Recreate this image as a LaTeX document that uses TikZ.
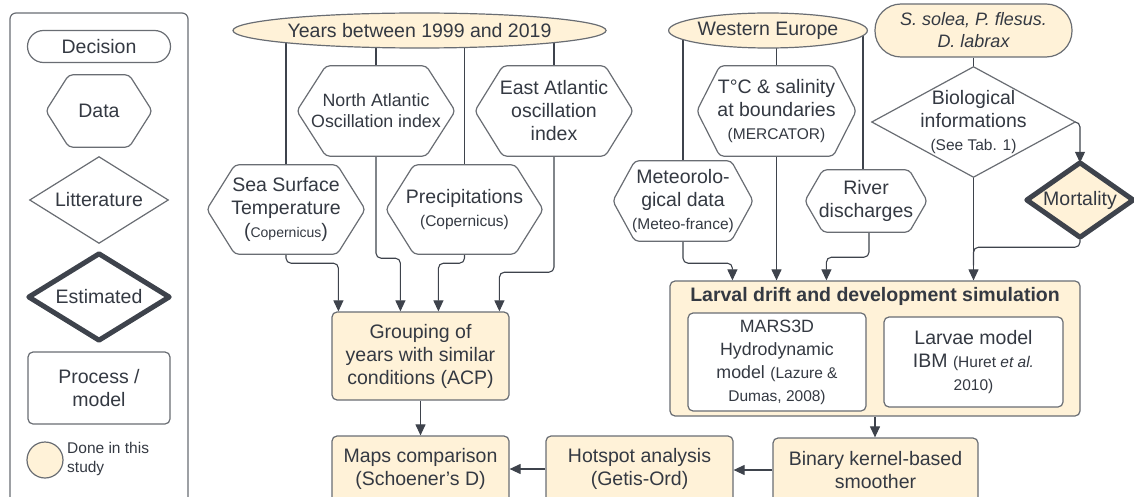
\documentclass[tikz,border=0pt]{standalone}
\usepackage{fontspec}
\setmainfont{Liberation Sans}
\usetikzlibrary{arrows.meta,shapes.geometric}
\pgfdeclarelayer{bg}
\pgfdeclarelayer{mid}
\pgfsetlayers{bg,mid,main}
\definecolor{cream}{RGB}{255,242,216}
\definecolor{bord}{RGB}{105,109,115}
\definecolor{lc}{RGB}{62,67,76}
\definecolor{txt}{RGB}{52,57,66}
\newcommand\fsN{\fontsize{19.5}{23}\selectfont}
\newcommand\fsM{\fontsize{17.8}{21}\selectfont}
\newcommand\fsS{\fontsize{15.5}{19}\selectfont}
\newcommand\hexshape[2]{%
  \begin{pgfonlayer}{mid}
  \draw[shapeline, fill=white, rounded corners=4pt] (#1.west) -- ([xshift=#2]#1.north west) -- ([xshift=-#2]#1.north east) -- (#1.east) -- ([xshift=-#2]#1.south east) -- ([xshift=#2]#1.south west) -- cycle;
  \end{pgfonlayer}}
\newcommand\diashape[2]{%
  \begin{pgfonlayer}{mid}
  \draw[#2] (#1.west) -- (#1.north) -- (#1.east) -- (#1.south) -- cycle;
  \end{pgfonlayer}}
\begin{document}
\begin{tikzpicture}[x=1pt,y=-1pt,
  base/.style={font=\fsN, text=txt, align=center, inner sep=0pt},
  shapeline/.style={draw=bord, line width=1.2pt},
  thickline/.style={draw=lc, line width=5pt, line join=round},
  boxn/.style={base, shapeline, rounded corners=5pt, fill=cream},
  ellnode/.style={base, shapeline, ellipse, fill=cream},
  hexn/.style={base},
  conn/.style={draw=lc, line width=1.1pt, rounded corners=5pt},
  arr/.style={conn, -{Triangle[length=11pt,width=10pt]}}
]
\useasboundingbox (0,0) rectangle (1134,497);

% ---------- legend ----------
\node[shapeline, rounded corners=6pt, minimum width=178, minimum height=492, inner sep=0pt] (legend) at (99,259) {};
\node[base, shapeline, fill=white, rounded corners=16pt, minimum width=143, minimum height=32] (dec) at (99,46.5) {Decision};
\node[hexn, minimum width=106, minimum height=72] (data) at (99,111) {Data};
\hexshape{data}{23}
\node[hexn, minimum width=138, minimum height=86] (lit) at (99,200) {Litterature};
\diashape{lit}{shapeline, fill=white}
\node[hexn, minimum width=140, minimum height=86] (est) at (99,297) {Estimated};
\diashape{est}{thickline, fill=white}
\node[boxn, fill=white, minimum width=142, minimum height=72] (proc) at (99,388) {Process /\\model};
\node[shapeline, circle, fill=cream, minimum size=36, inner sep=0pt] (dot) at (45,460) {};
\node[base, font=\fsS, align=left, anchor=west] (donetxt) at (67,459) {Done in this\\study};

% ---------- left part ----------
\node[ellnode, minimum width=357, minimum height=35] (years) at (419.5,30.5) {Years between 1999 and 2019};
\node[hexn, font=\fsM, minimum width=158, minimum height=90] (nao) at (376,111) {North Atlantic\\Oscillation index};
\hexshape{nao}{29}
\node[hexn, minimum width=158, minimum height=90] (eao) at (554,111) {East Atlantic\\oscillation\\index};
\hexshape{eao}{28}
\node[hexn, minimum width=158, minimum height=89] (sst) at (286,209.5) {Sea Surface\\Temperature\\({\fontsize{14}{17}\selectfont Copernicus})};
\hexshape{sst}{28}
\node[hexn, minimum width=157, minimum height=89] (prec) at (464.5,209.5) {Precipitations\\{\fsS (Copernicus)}};
\hexshape{prec}{28}
\node[boxn, minimum width=177, minimum height=88] (group) at (420.5,356) {Grouping of\\years with similar\\conditions (ACP)};
\node[boxn, minimum width=177, minimum height=66] (maps) at (420.5,469) {Maps comparison\\(Schoener's D)};
\node[boxn, minimum width=187, minimum height=66] (hot) at (639.5,469) {Hotspot analysis\\(Getis-Ord)};
\node[boxn, minimum width=205, minimum height=64] (bin) at (875.5,470) {Binary kernel-based\\smoother};

% ---------- right part ----------
\node[ellnode, minimum width=196, minimum height=35] (we) at (768,30.5) {Western Europe};
\node[base, shapeline, fill=cream, rounded corners=26pt, minimum width=197, minimum height=53, font=\fontsize{18}{22}\selectfont\itshape] (solea) at (973.5,30.5) {S. solea, P. flesus.\\D. labrax};
\node[hexn, minimum width=159, minimum height=90] (tc) at (776.5,111) {T°C \& salinity\\at boundaries\\{\fsS (MERCATOR)}};
\hexshape{tc}{23}
\node[hexn, minimum width=140, minimum height=80] (meteo) at (683,201) {Meteorolo-\\gical data\\{\fsS (Meteo-france)}};
\hexshape{meteo}{22}
\node[hexn, minimum width=122, minimum height=62] (river) at (866,201) {River\\discharges};
\hexshape{river}{18}
\node[hexn, minimum width=203, minimum height=110] (bio) at (973.5,122) {Biological\\informations\\{\fsS (See Tab. 1)}};
\diashape{bio}{shapeline, fill=white}
\node[hexn, minimum width=106, minimum height=74] (mort) at (1080,200) {Mortality};
\diashape{mort}{thickline, fill=cream}

\node[boxn, minimum width=410, minimum height=135] (larval) at (875,348.5) {};
\node[base, font=\fsN\bfseries] (ltitle) at (875,296) {Larval drift and development simulation};
\node[boxn, fill=white, minimum width=178, minimum height=98] (mars) at (777,362) {{\fsM MARS3D}\\{\fsM Hydrodynamic}\\{\fsM model} {\fsS (Lazure \&}\\{\fsS Dumas, 2008)}};
\node[boxn, fill=white, minimum width=179, minimum height=90] (ibm) at (973.5,362) {Larvae model\\IBM {\fsS (Huret \textit{et al.}}\\{\fsS 2010)}};

\coordinate (rtop) at ([xshift=-3]river.north);
\coordinate (rbot) at ([xshift=3]river.south);
\path (bio.south |- larval.north) ++(0,-15) coordinate (mj);

% ---------- connectors ----------
\begin{pgfonlayer}{bg}
\draw[conn] (years.center -| sst.north) -- (sst.north);
\draw[conn] (years.center -| nao.north) -- (nao.north);
\draw[conn] (years.center -| prec.north) -- (prec.north);
\draw[conn] (years.center -| eao.north) -- (eao.north);
\draw[arr] (sst.south) -- ++(0,9) -| ([xshift=7]group.north west);
\draw[arr] (nao.south) -- ++(0,102) -| ([xshift=69]group.north west);
\draw[arr] (prec.south) -- ++(0,9) -| ([xshift=107]group.north west);
\draw[arr] (eao.south) -- ++(0,116) -| ([xshift=168]group.north west);
\draw[arr] (group.south) -- (maps.north);
\draw[arr] (hot.west) -- (maps.east);
\draw[arr] (bin.west) -- (bin.west -| hot.east);
\draw[arr] (larval.south) -- (larval.south |- bin.north);
\draw[conn] (we.center -| meteo.north) -- (meteo.north);
\draw[conn] (we.center -| tc.north) -- (tc.north);
\draw[conn] (we.center -| rtop) -- (rtop);
\draw[arr] (meteo.south) -- ++(0,22) -| ([xshift=63]larval.north west);
\draw[arr] (tc.south) -- (tc.south |- larval.north);
\draw[arr] (rbot) -- ++(0,25) -| ([xshift=157]larval.north west);
\draw[conn] (solea.south) -- (bio.north);
\draw[arr] (bio.east) -| (mort.north);
\draw[arr] (bio.south) -- (bio.south |- larval.north);
\draw[conn] (mort.south) -- ++(0,10) -| (mj);
\end{pgfonlayer}
\end{tikzpicture}
\end{document}
